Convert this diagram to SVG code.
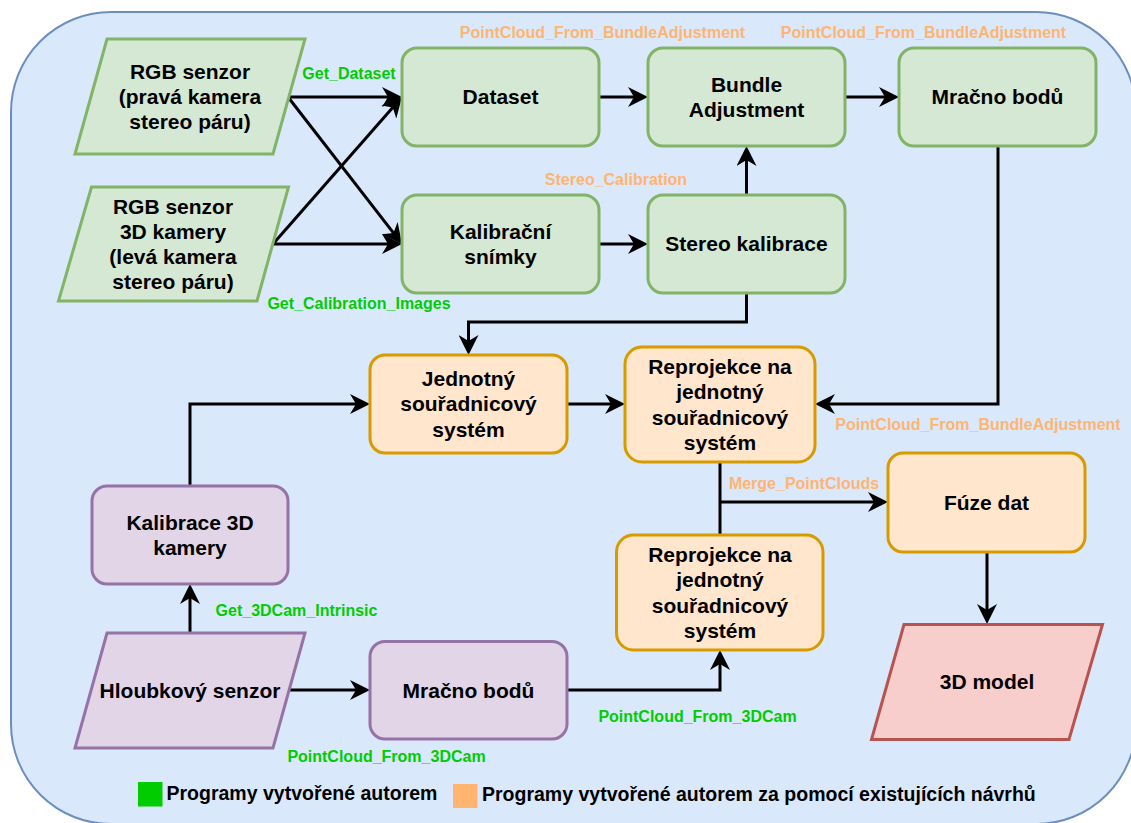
<svg xmlns="http://www.w3.org/2000/svg" width="1131" height="823" viewBox="0 0 1131 823">
<defs>
<style>
.t{font-family:"Liberation Sans",Arial,Helvetica,sans-serif;font-weight:bold;font-size:21px;fill:#000;text-anchor:middle}
.lg{font-family:"Liberation Sans",Arial,Helvetica,sans-serif;font-weight:bold;font-size:16px;fill:#00CC00;text-anchor:middle}
.lo{font-family:"Liberation Sans",Arial,Helvetica,sans-serif;font-weight:bold;font-size:16px;fill:#FFB570;text-anchor:middle}
.leg{font-family:"Liberation Sans",Arial,Helvetica,sans-serif;font-weight:bold;font-size:19.5px;fill:#000}
.g{fill:#d5e8d4;stroke:#82b366;stroke-width:3}
.o{fill:#ffe6cc;stroke:#d79b00;stroke-width:3}
.p{fill:#e1d5e7;stroke:#9673a6;stroke-width:3}
.r{fill:#f8cecc;stroke:#b85450;stroke-width:3}
.e{fill:none;stroke:#000;stroke-width:3}
.a{marker-end:url(#arr)}
</style>
<marker id="arr" viewBox="0 0 20 20" refX="12" refY="10" markerWidth="20" markerHeight="20" markerUnits="userSpaceOnUse" orient="auto">
<path d="M0,0 L20,10 L0,20 L6,10 Z" fill="#000"/>
</marker>
</defs>
<rect id="background" x="11" y="12" width="1125" height="812" rx="100" ry="100" fill="#dae8fc" stroke="#6c8ebf" stroke-width="2"/>

<g id="connectors">
<path class="e a" d="M288,97 H394"/>
<path class="e a" d="M288,97 L397.1,237.7"/>
<path class="e a" d="M273,244 L396.7,103"/>
<path class="e a" d="M273,244 H394"/>
<path class="e a" d="M599,97 H640"/>
<path class="e a" d="M845,97 H891"/>
<path class="e a" d="M599,244 H640"/>
<path class="e a" d="M746.5,195 V154"/>
<path class="e a" d="M746.5,293 V322 H468.5 V347"/>
<path class="e a" d="M998,146 V404 H823"/>
<path class="e a" d="M567,404 H617"/>
<path class="e a" d="M190,486 V404 H362"/>
<path class="e a" d="M190,633 V592"/>
<path class="e a" d="M289,690 H362"/>
<path class="e a" d="M566,690 H720 V658"/>
<path class="e" d="M720,462 V535"/>
<path class="e a" d="M720,502 H880"/>
<path class="e a" d="M987,552 V616"/>
</g>

<g id="labels">
<text class="lo" x="602.5" y="38">PointCloud_From_BundleAdjustment</text>
<text class="lo" x="923.5" y="38">PointCloud_From_BundleAdjustment</text>
<text class="lo" x="616" y="185">Stereo_Calibration</text>
<text class="lo" x="978" y="430">PointCloud_From_BundleAdjustment</text>
<text class="lo" x="804" y="489">Merge_PointClouds</text>
<text class="lg" x="349" y="79">Get_Dataset</text>
<text class="lg" x="359" y="309">Get_Calibration_Images</text>
<text class="lg" x="296.5" y="616">Get_3DCam_Intrinsic</text>
<text class="lg" x="386.5" y="762">PointCloud_From_3DCam</text>
<text class="lg" x="697.5" y="722">PointCloud_From_3DCam</text>
</g>

<g id="rgb-right">
<polygon class="g" points="107,39 305,39 273,154 75,154"/>
<text class="t" x="190" y="79">RGB senzor</text>
<text class="t" x="190" y="104.2">(pravá kamera</text>
<text class="t" x="190" y="129.4">stereo páru)</text>
</g>
<g id="rgb-left">
<polygon class="g" points="91.5,187 288.5,187 257,301 58.5,301"/>
<text class="t" x="173" y="213.6">RGB senzor</text>
<text class="t" x="173" y="238.8">3D kamery</text>
<text class="t" x="173" y="264">(levá kamera</text>
<text class="t" x="173" y="289.2">stereo páru)</text>
</g>
<g id="dataset">
<rect class="g" x="402" y="48" width="197" height="98" rx="15"/>
<text class="t" x="500.5" y="104.4">Dataset</text>
</g>
<g id="bundle-adjustment">
<rect class="g" x="648" y="48" width="197" height="98" rx="15"/>
<text class="t" x="746.5" y="91.8">Bundle</text>
<text class="t" x="746.5" y="117">Adjustment</text>
</g>
<g id="mracno-bodu-ba">
<rect class="g" x="899" y="48" width="197" height="98" rx="15"/>
<text class="t" x="997.5" y="104.4">Mračno bodů</text>
</g>
<g id="kalibracni-snimky">
<rect class="g" x="402" y="195" width="197" height="98" rx="15"/>
<text class="t" x="500.5" y="238.8">Kalibrační</text>
<text class="t" x="500.5" y="264">snímky</text>
</g>
<g id="stereo-kalibrace">
<rect class="g" x="648" y="195" width="197" height="98" rx="15"/>
<text class="t" x="746.5" y="251.4">Stereo kalibrace</text>
</g>
<g id="jednotny-system">
<rect class="o" x="370" y="355" width="197" height="98" rx="15"/>
<text class="t" x="468.5" y="386.2">Jednotný</text>
<text class="t" x="468.5" y="411.4">souřadnicový</text>
<text class="t" x="468.5" y="436.6">systém</text>
</g>
<g id="reprojekce-top">
<rect class="o" x="625" y="347" width="190" height="115" rx="17"/>
<text class="t" x="720" y="374.1">Reprojekce na</text>
<text class="t" x="720" y="399.3">jednotný</text>
<text class="t" x="720" y="424.5">souřadnicový</text>
<text class="t" x="720" y="449.7">systém</text>
</g>
<g id="fuze-dat">
<rect class="o" x="888" y="453" width="197" height="99" rx="15"/>
<text class="t" x="986.5" y="510">Fúze dat</text>
</g>
<g id="reprojekce-bottom">
<rect class="o" x="616.5" y="535" width="206.5" height="115" rx="17"/>
<text class="t" x="720" y="562.1">Reprojekce na</text>
<text class="t" x="720" y="587.3">jednotný</text>
<text class="t" x="720" y="612.5">souřadnicový</text>
<text class="t" x="720" y="637.7">systém</text>
</g>
<g id="kalibrace-3d">
<rect class="p" x="92" y="486" width="196" height="98" rx="15"/>
<text class="t" x="190" y="529.8">Kalibrace 3D</text>
<text class="t" x="190" y="555">kamery</text>
</g>
<g id="hloubkovy-senzor">
<polygon class="p" points="107,633 305,633 273,748 75,748"/>
<text class="t" x="190" y="698">Hloubkový senzor</text>
</g>
<g id="mracno-bodu-3d">
<rect class="p" x="370" y="641.5" width="197" height="97.5" rx="15"/>
<text class="t" x="468.5" y="697.5">Mračno bodů</text>
</g>
<g id="model-3d">
<polygon class="r" points="904,624.5 1102.5,624.5 1069,739.5 871.5,739.5"/>
<text class="t" x="987" y="689">3D model</text>
</g>
<g id="legend">
<rect x="138" y="782" width="24.5" height="24.5" fill="#00CC00"/>
<text class="leg" x="166.5" y="799.5">Programy vytvořené autorem</text>
<rect x="453" y="784" width="24.5" height="24" fill="#FFB570"/>
<text class="leg" x="482" y="800.5">Programy vytvořené autorem za pomocí existujících návrhů</text>
</g>
</svg>
